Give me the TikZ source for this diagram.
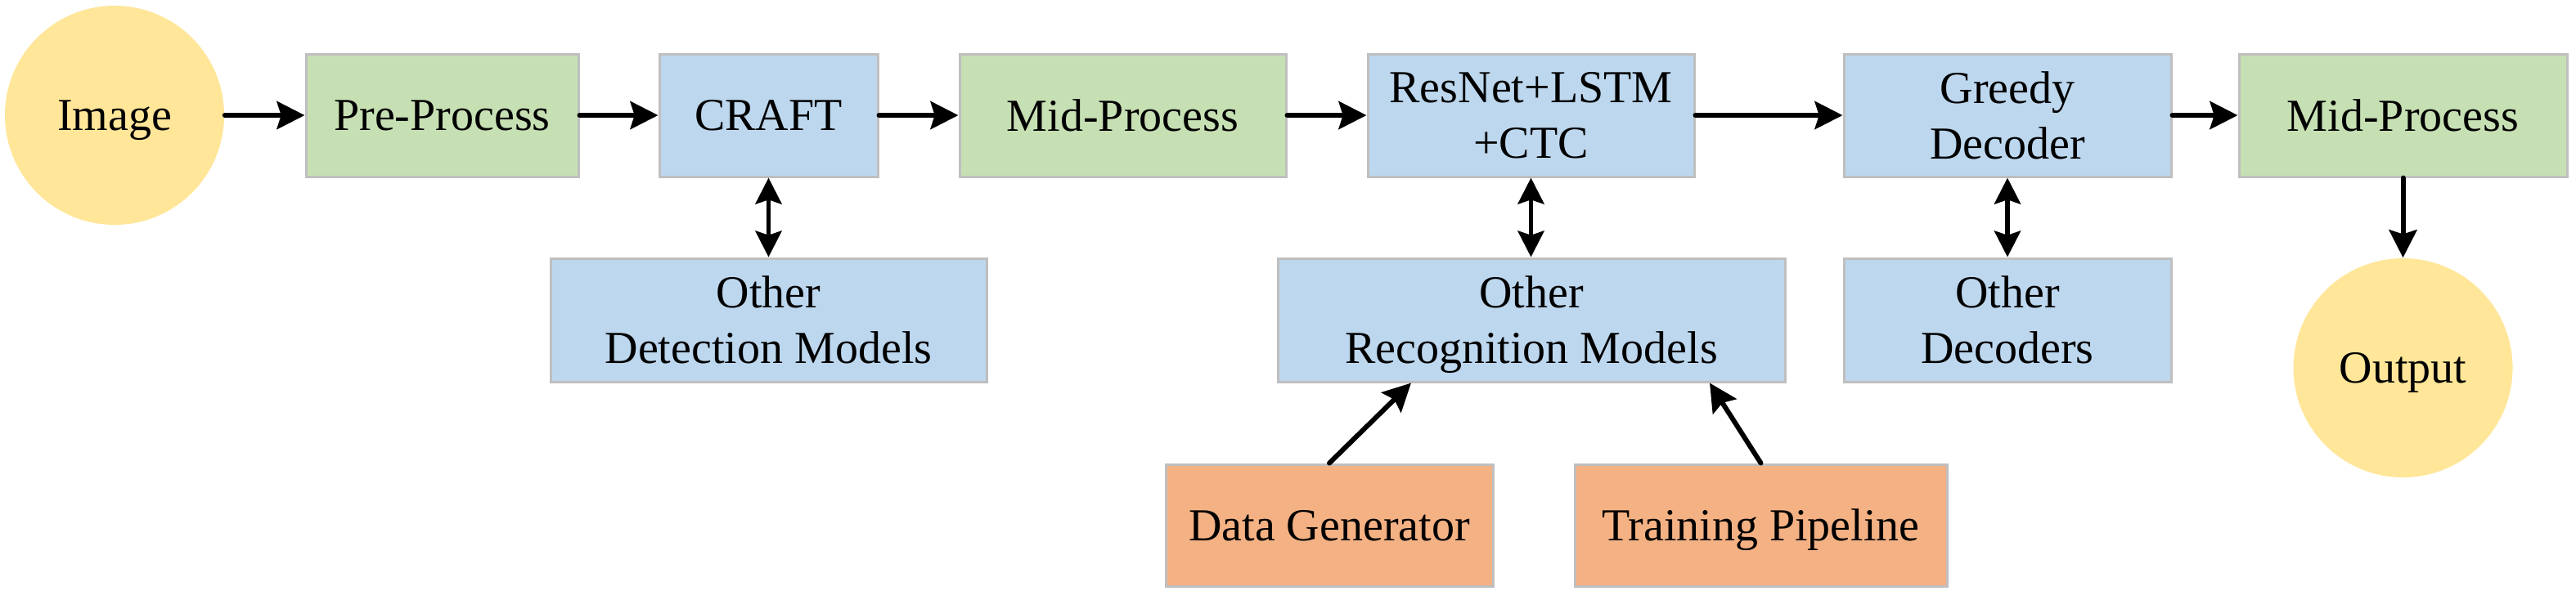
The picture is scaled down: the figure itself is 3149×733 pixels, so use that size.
\documentclass[tikz,border=0pt]{standalone}
\usepackage{fontspec}
\setmainfont{Liberation Serif}
\usetikzlibrary{arrows.meta}
\definecolor{cgreen}{HTML}{C6E0B4}
\definecolor{cblue}{HTML}{BDD7EE}
\definecolor{corange}{HTML}{F4B183}
\definecolor{cyellow}{HTML}{FFE699}
\definecolor{cborder}{HTML}{BFBFBF}
\begin{document}
\begin{tikzpicture}[x=0.25pt,y=-0.25pt,
  every node/.style={font=\fontsize{14pt}{17pt}\selectfont, align=center, inner sep=0pt, text depth=0pt},
  bx/.style 2 args={rectangle, draw=cborder, line width=0.75pt, minimum width=#1*0.25pt, minimum height=#2*0.25pt},
  gbox/.style={fill=cgreen},
  bbox/.style={fill=cblue},
  obox/.style={fill=corange},
  blob/.style={circle, fill=cyellow, minimum size=67pt},
  arr/.style={line width=1.5pt, line cap=round, -{Stealth[length=8.5pt,width=8.5pt,inset=1.3pt]}},
  darr/.style={line width=1.4pt, {Stealth[length=8pt,width=8pt,inset=1.3pt]}-{Stealth[length=8pt,width=8pt,inset=1.3pt]}}
]
\useasboundingbox (0,0) rectangle (3149,733);
\node[blob] (img) at (140,141) {Image};
\node[bx={333}{150}, gbox] (pre) at (540.5,141) {Pre-Process};
\node[bx={267}{150}, bbox] (craft) at (939.5,141) {CRAFT};
\node[bx={399}{150}, gbox] (mid1) at (1372.5,141) {Mid-Process};
\node[bx={399}{150}, bbox] (res) at (1871.5,141) {ResNet+LSTM\\+CTC};
\node[bx={400}{150}, bbox] (greedy) at (2454,141) {Greedy\\Decoder};
\node[bx={401}{150}, gbox] (mid2) at (2937.5,141) {Mid-Process};
\node[bx={533}{151}, bbox] (odet) at (939.5,391.5) {Other\\Detection Models};
\node[bx={620}{151}, bbox] (orec) at (1872,391.5) {Other\\Recognition Models};
\node[bx={400}{151}, bbox] (odec) at (2454,391.5) {Other\\Decoders};
\node[blob] (out) at (2937.5,450) {Output};
\node[bx={400}{149}, obox] (dgen) at (1625,642.5) {Data Generator};
\node[bx={455}{149}, obox] (tpipe) at (2152.5,642.5) {Training Pipeline};

\draw[arr] (img) -- (pre);
\draw[arr] (pre) -- (craft);
\draw[arr] (craft) -- (mid1);
\draw[arr] (mid1) -- (res);
\draw[arr] (res) -- (greedy);
\draw[arr] (greedy) -- (mid2);
\draw[arr] (mid2) -- (out);
\draw[darr] (craft) -- (odet);
\draw[darr] (res.south) -- (res.south |- orec.north);
\draw[darr] (greedy) -- (odec);
\coordinate (dgend) at ([xshift=-36.75pt]orec.south);
\coordinate (tpend) at ([xshift=54.5pt]orec.south);
\draw[arr] (dgen.north) -- (dgend);
\draw[arr] (tpipe.north) -- (tpend);
\end{tikzpicture}
\end{document}
